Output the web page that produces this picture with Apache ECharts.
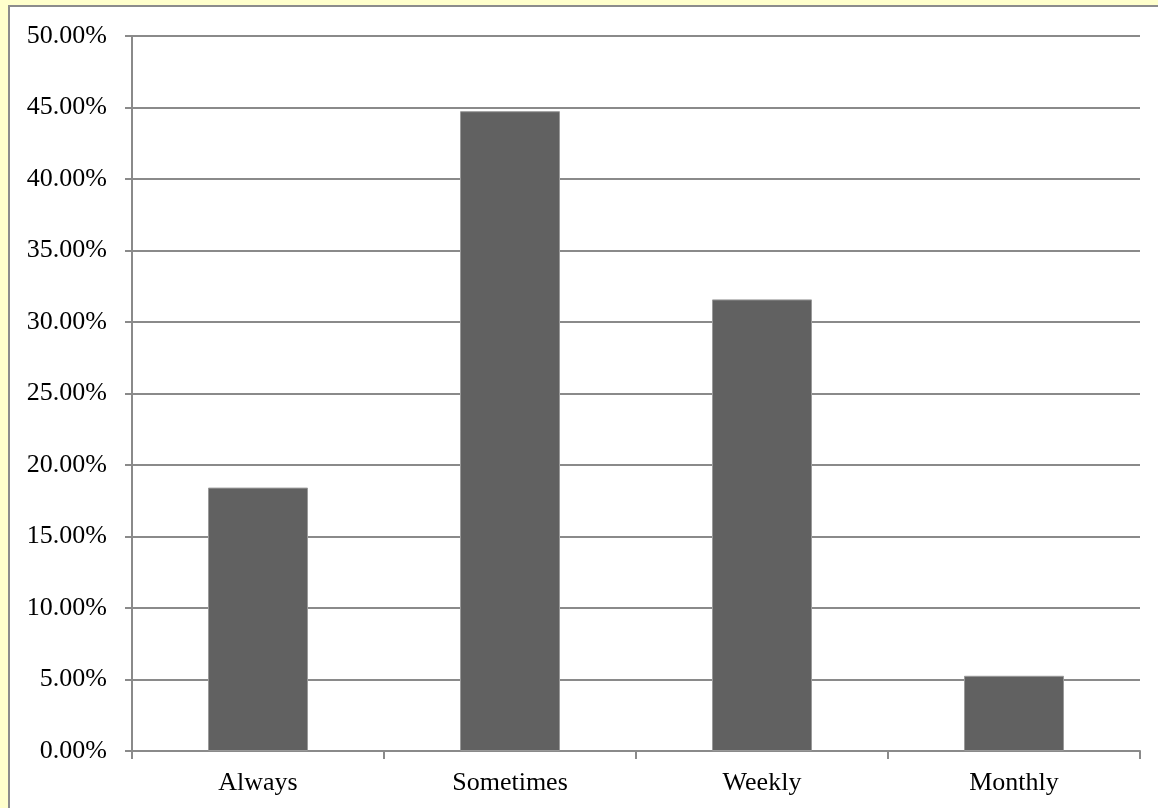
<!DOCTYPE html>
<html>
<head>
<meta charset="utf-8">
<script src="https://cdn.jsdelivr.net/npm/echarts@6/dist/echarts.min.js"></script>
<style>
  html, body { margin: 0; padding: 0; width: 1158px; height: 808px; overflow: hidden; background: #ffffcc; }
  #panel { position: absolute; left: 8px; top: 5px; width: 1150px; height: 803px;
           background: #ffffff; border-left: 2px solid #8c8c8c; border-top: 2px solid #8c8c8c; box-sizing: border-box; }
  #chart { position: absolute; left: 0; top: 0; width: 1158px; height: 808px; }
</style>
</head>
<body>
<div id="panel"></div>
<div id="chart"></div>
<script>
// Share of respondents per frequency answer
const categories = ['Always', 'Sometimes', 'Weekly', 'Monthly'];
const shares = [18.42, 44.74, 31.58, 5.26];
const yTicks = { min: 0, max: 50, interval: 5 };

const chart = echarts.init(document.getElementById('chart'), null, { renderer: 'canvas' });
const axisGray = '#8a8a8a';
const labelFont = { fontFamily: '"Liberation Serif", "Times New Roman", serif', fontSize: 26, color: '#000' };

chart.setOption({
  animation: false,
  grid: { left: 132, right: 18, top: 36, bottom: 57, containLabel: false },
  xAxis: {
    type: 'category',
    data: categories,
    axisLine: { show: true, lineStyle: { color: axisGray, width: 2 } },
    axisTick: { show: true, length: 8, lineStyle: { color: axisGray, width: 2 } },
    axisLabel: Object.assign({ margin: 19 }, labelFont),
    splitLine: { show: false }
  },
  yAxis: {
    type: 'value',
    min: yTicks.min, max: yTicks.max, interval: yTicks.interval,
    axisLine: { show: true, lineStyle: { color: axisGray, width: 2 } },
    axisTick: { show: true, length: 7, lineStyle: { color: axisGray, width: 2 } },
    axisLabel: Object.assign({ margin: 25, formatter: v => v.toFixed(2) + '%' }, labelFont),
    splitLine: { show: true, lineStyle: { color: axisGray, width: 2 } }
  },
  series: [{
    type: 'bar',
    data: shares,
    barWidth: 100,
    itemStyle: { color: '#616161', borderColor: '#9a9a9a', borderWidth: 1 }
  }]
});
</script>
</body>
</html>
